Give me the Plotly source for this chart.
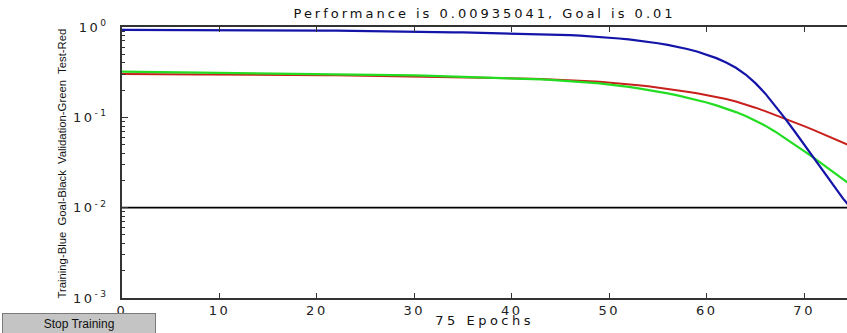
import plotly.graph_objects as go

epochs = list(range(76))

training_blue = [
    0.930, 0.930, 0.929, 0.929, 0.928, 0.928, 0.927, 0.927, 0.926, 0.926,
    0.925, 0.924, 0.924, 0.923, 0.922, 0.921, 0.920, 0.919, 0.918, 0.916,
    0.915, 0.913, 0.911, 0.909, 0.907, 0.905, 0.902, 0.899, 0.896, 0.893,
    0.890, 0.886, 0.882, 0.878, 0.874, 0.870, 0.866, 0.862, 0.857, 0.853,
    0.848, 0.844, 0.840, 0.835, 0.829, 0.822, 0.813, 0.803, 0.792, 0.780,
    0.764, 0.746, 0.728, 0.708, 0.685, 0.661, 0.634, 0.604, 0.571, 0.536,
    0.496, 0.452, 0.405, 0.354, 0.298, 0.239, 0.184, 0.136, 0.0986, 0.0706,
    0.0502, 0.0356, 0.0252, 0.0178, 0.0126, 0.00935,
]

validation_green = [
    0.320, 0.319, 0.319, 0.319, 0.318, 0.318, 0.318, 0.317, 0.317, 0.316,
    0.316, 0.315, 0.314, 0.313, 0.312, 0.311, 0.310, 0.309, 0.308, 0.307,
    0.305, 0.304, 0.303, 0.301, 0.300, 0.299, 0.297, 0.296, 0.295, 0.293,
    0.292, 0.290, 0.288, 0.286, 0.284, 0.282, 0.280, 0.278, 0.276, 0.274,
    0.272, 0.269, 0.266, 0.263, 0.260, 0.2564, 0.2523, 0.2477, 0.2427, 0.2371,
    0.2312, 0.2244, 0.2173, 0.2094, 0.2014, 0.1927, 0.1841, 0.1750, 0.1656, 0.1560,
    0.1459, 0.1355, 0.1250, 0.1143, 0.1035, 0.0923, 0.0809, 0.0698, 0.0594, 0.0502,
    0.0423, 0.0355, 0.0297, 0.0248, 0.0207, 0.0172,
]

test_red = [
    0.301, 0.300, 0.300, 0.300, 0.299, 0.299, 0.299, 0.298, 0.298, 0.298,
    0.298, 0.297, 0.297, 0.296, 0.296, 0.296, 0.295, 0.295, 0.294, 0.294,
    0.294, 0.293, 0.292, 0.291, 0.290, 0.290, 0.289, 0.288, 0.287, 0.286,
    0.285, 0.284, 0.283, 0.281, 0.280, 0.279, 0.277, 0.276, 0.275, 0.273,
    0.272, 0.270, 0.268, 0.266, 0.264, 0.2612, 0.2582, 0.2547, 0.2512, 0.2472,
    0.2427, 0.2377, 0.2323, 0.2265, 0.2203, 0.2138, 0.2070, 0.2000, 0.1923, 0.1849,
    0.1770, 0.1686, 0.1596, 0.1496, 0.1390, 0.1279, 0.1172, 0.1069, 0.0973, 0.0883,
    0.0800, 0.0723, 0.0652, 0.0586, 0.0526, 0.0471,
]

goal_x = [0, 75]
goal_y = [0.01, 0.01]

x_ticks = [0, 10, 20, 30, 40, 50, 60, 70]
y_tickvals = [0.001, 0.01, 0.1, 1]
y_ticktext = ["10<sup>-3</sup>", "10<sup>-2</sup>", "10<sup>-1</sup>", "10<sup>0</sup>"]
y_minor = [m * d for d in (0.001, 0.01, 0.1) for m in range(2, 10)]

title_text = "Performance is 0.00935041, Goal is 0.01"
x_title = "75 Epochs"
y_title = "Training-Blue  Goal-Black  Validation-Green  Test-Red"
button_text = "Stop Training"

FONT = "DejaVu Sans, Liberation Sans, Arial, sans-serif"
AX = "#333333"

fig = go.Figure()
fig.add_trace(go.Scatter(x=goal_x, y=goal_y, mode="lines",
                         line=dict(color="#000000", width=1.6), showlegend=False))
fig.add_trace(go.Scatter(x=epochs, y=test_red, mode="lines",
                         line=dict(color="#c8201c", width=2), showlegend=False))
fig.add_trace(go.Scatter(x=epochs, y=validation_green, mode="lines",
                         line=dict(color="#22dd22", width=2.2), showlegend=False))
fig.add_trace(go.Scatter(x=epochs, y=training_blue, mode="lines",
                         line=dict(color="#1414a8", width=2.2), showlegend=False))

fig.update_layout(
    width=847, height=333,
    margin=dict(l=122, r=0, t=27, b=35, autoexpand=False),
    paper_bgcolor="white", plot_bgcolor="white",
    font=dict(family=FONT, color="#222222", size=13),
    showlegend=False,
    annotations=[
        dict(text=title_text, xref="paper", yref="paper", x=0.5, y=1,
             yanchor="bottom", yshift=4, showarrow=False,
             font=dict(family=FONT, size=13, color="#111111")),
        dict(text=x_title, xref="paper", yref="paper", x=0.5, y=0,
             yanchor="top", yshift=-13, showarrow=False,
             font=dict(family=FONT, size=13, color="#111111")),
        dict(text=y_title, xref="paper", yref="paper", x=0, y=0.5,
             xanchor="center", yanchor="middle", xshift=-61, yshift=-1, textangle=-90,
             showarrow=False,
             font=dict(family="Liberation Sans Narrow, Liberation Sans, Arial, sans-serif",
                       size=11.3, color="#111111")),
        dict(text=button_text, xref="paper", yref="paper", x=0, y=0,
             xanchor="center", yanchor="top", xshift=-43, yshift=-15,
             showarrow=False, width=150, height=17, bgcolor="#c4c4c4",
             bordercolor="#7a7a7a", borderwidth=1, borderpad=1,
             font=dict(family="Liberation Sans, Arial, sans-serif", size=12, color="#111111")),
    ],
)

fig.update_xaxes(
    range=[0, 74.4], tickmode="array", tickvals=x_ticks,
    ticks="inside", ticklen=5, tickcolor=AX, tickwidth=1,
    showline=True, linecolor=AX, linewidth=1.5, mirror="ticks",
    showgrid=False, zeroline=False, automargin=False,
    tickfont=dict(family=FONT, size=13, color="#222222"),
)
fig.update_yaxes(
    type="log", range=[-3, 0], tickmode="array", tickvals=y_tickvals, ticktext=y_ticktext,
    ticks="inside", ticklen=6, tickcolor=AX, tickwidth=1,
    minor=dict(tickmode="array", tickvals=y_minor, ticks="inside", ticklen=3,
               tickcolor=AX, showgrid=False),
    showline=True, linecolor=AX, linewidth=1.5, mirror=False,
    showgrid=False, zeroline=False, automargin=False,
    ticklabelstandoff=9,
    tickfont=dict(family=FONT, size=13, color="#222222"),
)

post = """
document.body.style.margin = '0';
document.body.style.overflow = 'hidden';
var st = document.createElement('style');
st.textContent = '.xtick text, .ytick text{letter-spacing:2.5px}';
document.head.appendChild(st);
var anns = document.querySelectorAll('.annotation-text');
anns.forEach(function(t){
  var s = t.textContent;
  if (s.indexOf('Performance') === 0) { t.style.letterSpacing = '3px'; }
  if (s.indexOf('Epochs') > 0) { t.style.letterSpacing = '3.5px'; }
});
"""

fig.write_html("out.html", post_script=post, config={"displayModeBar": False})
